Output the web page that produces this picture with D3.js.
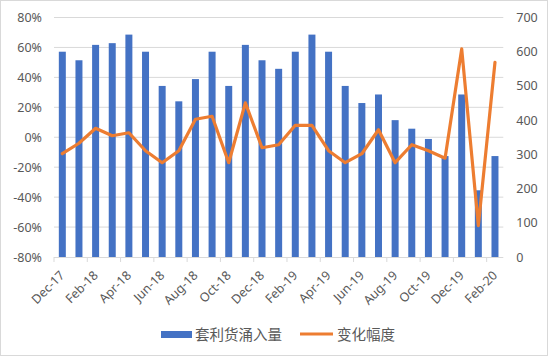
<!DOCTYPE html>
<html><head><meta charset="utf-8">
<script src="https://cdn.jsdelivr.net/npm/d3@7/dist/d3.min.js"></script>
<style>
html,body{margin:0;padding:0;background:#fff;}
svg{display:block;}
</style></head>
<body><svg id="c" width="550" height="358"></svg>
<script>
const months = ["Dec-17","Jan-18","Feb-18","Mar-18","Apr-18","May-18","Jun-18","Jul-18","Aug-18","Sep-18","Oct-18","Nov-18","Dec-18","Jan-19","Feb-19","Mar-19","Apr-19","May-19","Jun-19","Jul-19","Aug-19","Sep-19","Oct-19","Nov-19","Dec-19","Jan-20","Feb-20"];
const volume = [600,575,620,625,650,600,500,455,520,600,500,620,575,550,600,650,600,500,450,475,400,375,345,295,475,195,295];
const change = [-11,-4,6,1,3,-9,-17,-9,12,14,-17,23,-7,-5,8,8,-9,-17,-11,5,-17,-5,-9,-14,59,-59,50];
const leftTicks = [-80,-60,-40,-20,0,20,40,60,80];
const rightTicks = [0,100,200,300,400,500,600,700];
const seriesNames = ["套利货涌入量","变化幅度"];

const svg = d3.select("#c");
const font = "'Noto Sans','Noto Sans CJK SC',sans-serif";
const txt = "#595959";
const L = 54, R = 503.3, T = 17.5, B = 257;

svg.append("rect").attr("x",0.5).attr("y",0.5).attr("width",547).attr("height",355)
  .attr("fill","#fff").attr("stroke","#d9d9d9");

const x = d3.scaleBand().domain(months).range([L,R]).paddingInner(0.58).paddingOuter(0.29);
const yL = d3.scaleLinear().domain([-80,80]).range([B,T]);
const yR = d3.scaleLinear().domain([0,700]).range([B,T]);

// gridlines
svg.append("g").selectAll("line").data(leftTicks.filter(d=>d>-80)).join("line")
  .attr("x1",L).attr("x2",R).attr("y1",d=>yL(d)).attr("y2",d=>yL(d))
  .attr("stroke","#d9d9d9").attr("stroke-width",1);

// left axis
const gl = svg.append("g").attr("transform",`translate(${L},0)`)
  .call(d3.axisLeft(yL).tickValues(leftTicks).tickFormat(d=>d+"%").tickSize(0).tickPadding(12));
gl.select(".domain").remove();
gl.selectAll("text").attr("fill",txt).attr("font-size","12.5px").attr("font-family",font);

// right axis
const gr = svg.append("g").attr("transform",`translate(${R},0)`)
  .call(d3.axisRight(yR).tickValues(rightTicks).tickSize(0).tickPadding(13));
gr.select(".domain").remove();
gr.selectAll("text").attr("fill",txt).attr("font-size","12.5px").attr("font-family",font);

// bars
svg.append("g").selectAll("rect").data(months).join("rect")
  .attr("x",d=>x(d)).attr("width",x.bandwidth())
  .attr("y",(d,i)=>yR(volume[i])).attr("height",(d,i)=>yR(0)-yR(volume[i]))
  .attr("fill","#4472c4");

// x axis baseline + ticks
svg.append("line").attr("x1",L).attr("x2",R).attr("y1",B+0.5).attr("y2",B+0.5).attr("stroke","#d9d9d9");
const step = x.step();
const tickPos = d3.range(0,28,2).map(i=>L+i*step);
svg.append("g").selectAll("line").data(tickPos).join("line")
  .attr("x1",d=>d).attr("x2",d=>d).attr("y1",B).attr("y2",B+5).attr("stroke","#d9d9d9");

// x labels
svg.append("g").selectAll("text").data(months.filter((d,i)=>i%2===0)).join("text")
  .attr("transform",d=>`translate(${x(d)+x.bandwidth()/2},${B+16}) rotate(-45)`)
  .attr("text-anchor","end").attr("dy","0.35em")
  .attr("fill",txt).attr("font-size","12.5px").attr("font-family",font).text(d=>d);

// line
const line = d3.line().x((d,i)=>x(months[i])+x.bandwidth()/2).y(d=>yL(d));
svg.append("path").datum(change).attr("d",line).attr("fill","none")
  .attr("stroke","#ed7d31").attr("stroke-width",3.2).attr("stroke-linejoin","round").attr("stroke-linecap","round");

// legend
const lg = svg.append("g");
lg.append("rect").attr("x",161).attr("y",331).attr("width",31).attr("height",7).attr("fill","#4472c4");
lg.append("text").attr("x",195).attr("y",334.5).attr("dy","0.35em").attr("fill",txt)
  .attr("font-size","14.5px").attr("font-family",font).text(seriesNames[0]);
lg.append("line").attr("x1",300).attr("x2",333).attr("y1",334).attr("y2",334)
  .attr("stroke","#ed7d31").attr("stroke-width",3.2);
lg.append("text").attr("x",337).attr("y",334.5).attr("dy","0.35em").attr("fill",txt)
  .attr("font-size","14.5px").attr("font-family",font).text(seriesNames[1]);
</script></body></html>
